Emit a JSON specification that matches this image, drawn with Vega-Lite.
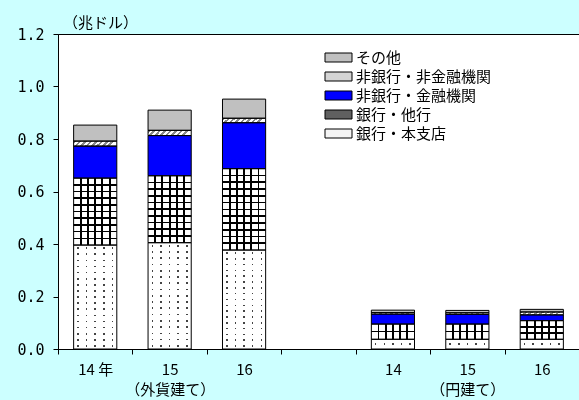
{
  "$schema": "https://vega.github.io/schema/vega-lite/v6.json",
  "width": 521,
  "height": 315,
  "autosize": "none",
  "padding": {"left": 58, "top": 34, "right": 0, "bottom": 51},
  "background": "#CCFFFF",
  "config": {
    "view": {"stroke": "black", "strokeWidth": 1, "fill": "white"},
    "axis": {"domainColor": "black", "tickColor": "black", "labelColor": "black", "titleColor": "black", "grid": false}
  },
  "data": {
    "values": [
      {"cat": "外貨14", "group": "外貨建て", "year": "14", "series": "銀行・本支店", "order": 1, "value": 0.396},
      {"cat": "外貨14", "group": "外貨建て", "year": "14", "series": "銀行・他行", "order": 2, "value": 0.255},
      {"cat": "外貨14", "group": "外貨建て", "year": "14", "series": "非銀行・金融機関", "order": 3, "value": 0.122},
      {"cat": "外貨14", "group": "外貨建て", "year": "14", "series": "非銀行・非金融機関", "order": 4, "value": 0.019},
      {"cat": "外貨14", "group": "外貨建て", "year": "14", "series": "その他", "order": 5, "value": 0.061},
      {"cat": "外貨15", "group": "外貨建て", "year": "15", "series": "銀行・本支店", "order": 1, "value": 0.405},
      {"cat": "外貨15", "group": "外貨建て", "year": "15", "series": "銀行・他行", "order": 2, "value": 0.255},
      {"cat": "外貨15", "group": "外貨建て", "year": "15", "series": "非銀行・金融機関", "order": 3, "value": 0.153},
      {"cat": "外貨15", "group": "外貨建て", "year": "15", "series": "非銀行・非金融機関", "order": 4, "value": 0.020},
      {"cat": "外貨15", "group": "外貨建て", "year": "15", "series": "その他", "order": 5, "value": 0.077},
      {"cat": "外貨16", "group": "外貨建て", "year": "16", "series": "銀行・本支店", "order": 1, "value": 0.377},
      {"cat": "外貨16", "group": "外貨建て", "year": "16", "series": "銀行・他行", "order": 2, "value": 0.310},
      {"cat": "外貨16", "group": "外貨建て", "year": "16", "series": "非銀行・金融機関", "order": 3, "value": 0.175},
      {"cat": "外貨16", "group": "外貨建て", "year": "16", "series": "非銀行・非金融機関", "order": 4, "value": 0.017},
      {"cat": "外貨16", "group": "外貨建て", "year": "16", "series": "その他", "order": 5, "value": 0.073},
      {"cat": "円14", "group": "円建て", "year": "14", "series": "銀行・本支店", "order": 1, "value": 0.037},
      {"cat": "円14", "group": "円建て", "year": "14", "series": "銀行・他行", "order": 2, "value": 0.058},
      {"cat": "円14", "group": "円建て", "year": "14", "series": "非銀行・金融機関", "order": 3, "value": 0.038},
      {"cat": "円14", "group": "円建て", "year": "14", "series": "非銀行・非金融機関", "order": 4, "value": 0.006},
      {"cat": "円14", "group": "円建て", "year": "14", "series": "その他", "order": 5, "value": 0.009},
      {"cat": "円15", "group": "円建て", "year": "15", "series": "銀行・本支店", "order": 1, "value": 0.037},
      {"cat": "円15", "group": "円建て", "year": "15", "series": "銀行・他行", "order": 2, "value": 0.058},
      {"cat": "円15", "group": "円建て", "year": "15", "series": "非銀行・金融機関", "order": 3, "value": 0.037},
      {"cat": "円15", "group": "円建て", "year": "15", "series": "非銀行・非金融機関", "order": 4, "value": 0.006},
      {"cat": "円15", "group": "円建て", "year": "15", "series": "その他", "order": 5, "value": 0.009},
      {"cat": "円16", "group": "円建て", "year": "16", "series": "銀行・本支店", "order": 1, "value": 0.037},
      {"cat": "円16", "group": "円建て", "year": "16", "series": "銀行・他行", "order": 2, "value": 0.071},
      {"cat": "円16", "group": "円建て", "year": "16", "series": "非銀行・金融機関", "order": 3, "value": 0.022},
      {"cat": "円16", "group": "円建て", "year": "16", "series": "非銀行・非金融機関", "order": 4, "value": 0.011},
      {"cat": "円16", "group": "円建て", "year": "16", "series": "その他", "order": 5, "value": 0.010}
    ]
  },
  "transform": [
    {"stack": "value", "groupby": ["cat"], "sort": [{"field": "order", "order": "ascending"}], "as": ["v0", "v1"]}
  ],
  "encoding": {
    "x": {
      "field": "cat", "type": "nominal",
      "scale": {"domain": ["外貨14", "外貨15", "外貨16", "gap", "円14", "円15", "円16"], "paddingInner": 0, "paddingOuter": 0},
      "axis": {
        "title": null, "tickBand": "extent", "tickSize": 5, "labelAngle": 0,
        "labelFont": "Noto Sans CJK JP", "labelFontSize": 15, "labelPadding": 8, "labelLineHeight": 20,
        "labelOverlap": false, "labelBound": false, "labelFlush": false,
        "labelExpr": "datum.value == '外貨14' ? '14 年' : datum.value == '外貨15' ? ['15', '（外貨建て）'] : datum.value == '外貨16' ? '16' : datum.value == '円14' ? '14' : datum.value == '円15' ? ['15', '（円建て）'] : datum.value == '円16' ? '16' : ''"
      }
    },
    "y": {
      "field": "v1", "type": "quantitative",
      "scale": {"domain": [0, 1.2], "nice": false},
      "axis": {
        "values": [0, 0.2, 0.4, 0.6, 0.8, 1.0, 1.2], "format": ".1f",
        "labelFont": "DejaVu Sans Mono", "labelFontSize": 15, "tickSize": 5, "labelPadding": 9,
        "title": "（兆ドル）", "titleAngle": 0, "titleX": 42, "titleY": -12, "titleAlign": "center", "titleBaseline": "middle",
        "titleFont": "Noto Sans CJK JP", "titleFontSize": 15, "titleFontWeight": "normal"
      }
    },
    "y2": {"field": "v0"}
  },
  "layer": [
    {
      "mark": {"type": "bar", "width": {"band": 0.58}},
      "encoding": {
        "color": {
          "field": "series", "type": "nominal",
          "scale": {
            "domain": ["その他", "非銀行・非金融機関", "非銀行・金融機関", "銀行・他行", "銀行・本支店"],
            "range": ["#c0c0c0", "#d4d4d4", "#0000ff", "#606060", "#f4f4f4"]
          },
          "legend": {
            "orient": "none", "legendX": 273, "legendY": 16, "title": null,
            "symbolType": "M-3,-1H3V1H-3Z", "symbolSize": 81, "symbolStrokeColor": "black", "symbolStrokeWidth": 1,
            "labelFont": "Noto Sans CJK JP", "labelFontSize": 15, "labelColor": "black", "labelOffset": 10,
            "rowPadding": 3, "padding": 0, "labelLimit": 300
          }
        }
      }
    },
    {
      "transform": [{"filter": "datum.series == '銀行・本支店'"}],
      "mark": {"type": "bar", "width": {"band": 0.58},
        "fill": {"gradient": "linear", "x1": 0, "y1": 0, "x2": 1, "y2": 0, "stops": [
          {"offset": 0, "color": "white"}, {"offset": 0.082, "color": "white"}, {"offset": 0.082, "color": "#444"}, {"offset": 0.118, "color": "#444"}, {"offset": 0.118, "color": "white"},
          {"offset": 0.282, "color": "white"}, {"offset": 0.282, "color": "#444"}, {"offset": 0.318, "color": "#444"}, {"offset": 0.318, "color": "white"},
          {"offset": 0.482, "color": "white"}, {"offset": 0.482, "color": "#444"}, {"offset": 0.518, "color": "#444"}, {"offset": 0.518, "color": "white"},
          {"offset": 0.682, "color": "white"}, {"offset": 0.682, "color": "#444"}, {"offset": 0.718, "color": "#444"}, {"offset": 0.718, "color": "white"},
          {"offset": 0.882, "color": "white"}, {"offset": 0.882, "color": "#444"}, {"offset": 0.918, "color": "#444"}, {"offset": 0.918, "color": "white"},
          {"offset": 1, "color": "white"}]}
      }
    },
    {
      "transform": [{"filter": "datum.series == '銀行・本支店'"}],
      "mark": {"type": "bar", "width": {"band": 0.58}, "blend": "lighten"},
      "encoding": {
        "fill": {
          "condition": {"test": "datum.group == '円建て'", "value": {"gradient": "linear", "x1": 0, "y1": 0, "x2": 0, "y2": 1, "stops": [
            {"offset": 0, "color": "white"}, {"offset": 0.42, "color": "white"}, {"offset": 0.42, "color": "black"}, {"offset": 0.58, "color": "black"}, {"offset": 0.58, "color": "white"}, {"offset": 1, "color": "white"}]}},
          "value": {"gradient": "linear", "x1": 0, "y1": 0, "x2": 0, "y2": 1, "stops": [
            {"offset": 0, "color": "white"},
            {"offset": 0.0214, "color": "white"}, {"offset": 0.0214, "color": "black"}, {"offset": 0.0374, "color": "black"}, {"offset": 0.0374, "color": "white"},
            {"offset": 0.0802, "color": "white"}, {"offset": 0.0802, "color": "black"}, {"offset": 0.0962, "color": "black"}, {"offset": 0.0962, "color": "white"},
            {"offset": 0.1391, "color": "white"}, {"offset": 0.1391, "color": "black"}, {"offset": 0.1551, "color": "black"}, {"offset": 0.1551, "color": "white"},
            {"offset": 0.1979, "color": "white"}, {"offset": 0.1979, "color": "black"}, {"offset": 0.2139, "color": "black"}, {"offset": 0.2139, "color": "white"},
            {"offset": 0.2567, "color": "white"}, {"offset": 0.2567, "color": "black"}, {"offset": 0.2727, "color": "black"}, {"offset": 0.2727, "color": "white"},
            {"offset": 0.3155, "color": "white"}, {"offset": 0.3155, "color": "black"}, {"offset": 0.3315, "color": "black"}, {"offset": 0.3315, "color": "white"},
            {"offset": 0.3744, "color": "white"}, {"offset": 0.3744, "color": "black"}, {"offset": 0.3904, "color": "black"}, {"offset": 0.3904, "color": "white"},
            {"offset": 0.4332, "color": "white"}, {"offset": 0.4332, "color": "black"}, {"offset": 0.4492, "color": "black"}, {"offset": 0.4492, "color": "white"},
            {"offset": 0.492, "color": "white"}, {"offset": 0.492, "color": "black"}, {"offset": 0.508, "color": "black"}, {"offset": 0.508, "color": "white"},
            {"offset": 0.5508, "color": "white"}, {"offset": 0.5508, "color": "black"}, {"offset": 0.5668, "color": "black"}, {"offset": 0.5668, "color": "white"},
            {"offset": 0.6096, "color": "white"}, {"offset": 0.6096, "color": "black"}, {"offset": 0.6256, "color": "black"}, {"offset": 0.6256, "color": "white"},
            {"offset": 0.6685, "color": "white"}, {"offset": 0.6685, "color": "black"}, {"offset": 0.6845, "color": "black"}, {"offset": 0.6845, "color": "white"},
            {"offset": 0.7273, "color": "white"}, {"offset": 0.7273, "color": "black"}, {"offset": 0.7433, "color": "black"}, {"offset": 0.7433, "color": "white"},
            {"offset": 0.7861, "color": "white"}, {"offset": 0.7861, "color": "black"}, {"offset": 0.8021, "color": "black"}, {"offset": 0.8021, "color": "white"},
            {"offset": 0.8449, "color": "white"}, {"offset": 0.8449, "color": "black"}, {"offset": 0.8609, "color": "black"}, {"offset": 0.8609, "color": "white"},
            {"offset": 0.9038, "color": "white"}, {"offset": 0.9038, "color": "black"}, {"offset": 0.9198, "color": "black"}, {"offset": 0.9198, "color": "white"},
            {"offset": 0.9626, "color": "white"}, {"offset": 0.9626, "color": "black"}, {"offset": 0.9786, "color": "black"}, {"offset": 0.9786, "color": "white"},
            {"offset": 1, "color": "white"}]}
        }
      }
    },
    {
      "transform": [{"filter": "datum.series == '銀行・他行'"}],
      "mark": {"type": "bar", "width": {"band": 0.58},
        "fill": {"gradient": "linear", "x1": 0, "y1": 0, "x2": 1, "y2": 0, "stops": [
          {"offset": 0, "color": "white"},
          {"offset": 0.1447, "color": "white"}, {"offset": 0.1447, "color": "black"}, {"offset": 0.1887, "color": "black"}, {"offset": 0.1887, "color": "white"},
          {"offset": 0.3113, "color": "white"}, {"offset": 0.3113, "color": "black"}, {"offset": 0.3553, "color": "black"}, {"offset": 0.3553, "color": "white"},
          {"offset": 0.478, "color": "white"}, {"offset": 0.478, "color": "black"}, {"offset": 0.522, "color": "black"}, {"offset": 0.522, "color": "white"},
          {"offset": 0.6447, "color": "white"}, {"offset": 0.6447, "color": "black"}, {"offset": 0.6887, "color": "black"}, {"offset": 0.6887, "color": "white"},
          {"offset": 0.8113, "color": "white"}, {"offset": 0.8113, "color": "black"}, {"offset": 0.8553, "color": "black"}, {"offset": 0.8553, "color": "white"},
          {"offset": 1, "color": "white"}]}
      }
    },
    {
      "transform": [{"filter": "datum.series == '銀行・他行'"}],
      "mark": {"type": "bar", "width": {"band": 0.58}},
      "encoding": {
        "fill": {
          "condition": [
            {"test": "datum.cat == '外貨16'", "value": {"gradient": "linear", "x1": 0, "y1": 0, "x2": 0, "y2": 1, "stops": [
              {"offset": 0, "color": "rgba(0,0,0,0)"},
              {"offset": 0.0733, "color": "rgba(0,0,0,0)"}, {"offset": 0.0733, "color": "black"}, {"offset": 0.0933, "color": "black"}, {"offset": 0.0933, "color": "rgba(0,0,0,0)"},
              {"offset": 0.1567, "color": "rgba(0,0,0,0)"}, {"offset": 0.1567, "color": "black"}, {"offset": 0.1767, "color": "black"}, {"offset": 0.1767, "color": "rgba(0,0,0,0)"},
              {"offset": 0.24, "color": "rgba(0,0,0,0)"}, {"offset": 0.24, "color": "black"}, {"offset": 0.26, "color": "black"}, {"offset": 0.26, "color": "rgba(0,0,0,0)"},
              {"offset": 0.3233, "color": "rgba(0,0,0,0)"}, {"offset": 0.3233, "color": "black"}, {"offset": 0.3433, "color": "black"}, {"offset": 0.3433, "color": "rgba(0,0,0,0)"},
              {"offset": 0.4067, "color": "rgba(0,0,0,0)"}, {"offset": 0.4067, "color": "black"}, {"offset": 0.4267, "color": "black"}, {"offset": 0.4267, "color": "rgba(0,0,0,0)"},
              {"offset": 0.49, "color": "rgba(0,0,0,0)"}, {"offset": 0.49, "color": "black"}, {"offset": 0.51, "color": "black"}, {"offset": 0.51, "color": "rgba(0,0,0,0)"},
              {"offset": 0.5733, "color": "rgba(0,0,0,0)"}, {"offset": 0.5733, "color": "black"}, {"offset": 0.5933, "color": "black"}, {"offset": 0.5933, "color": "rgba(0,0,0,0)"},
              {"offset": 0.6567, "color": "rgba(0,0,0,0)"}, {"offset": 0.6567, "color": "black"}, {"offset": 0.6767, "color": "black"}, {"offset": 0.6767, "color": "rgba(0,0,0,0)"},
              {"offset": 0.74, "color": "rgba(0,0,0,0)"}, {"offset": 0.74, "color": "black"}, {"offset": 0.76, "color": "black"}, {"offset": 0.76, "color": "rgba(0,0,0,0)"},
              {"offset": 0.8233, "color": "rgba(0,0,0,0)"}, {"offset": 0.8233, "color": "black"}, {"offset": 0.8433, "color": "black"}, {"offset": 0.8433, "color": "rgba(0,0,0,0)"},
              {"offset": 0.9067, "color": "rgba(0,0,0,0)"}, {"offset": 0.9067, "color": "black"}, {"offset": 0.9267, "color": "black"}, {"offset": 0.9267, "color": "rgba(0,0,0,0)"},
              {"offset": 1, "color": "rgba(0,0,0,0)"}]}},
            {"test": "datum.cat == '円16'", "value": {"gradient": "linear", "x1": 0, "y1": 0, "x2": 0, "y2": 1, "stops": [
              {"offset": 0, "color": "rgba(0,0,0,0)"},
              {"offset": 0.29, "color": "rgba(0,0,0,0)"}, {"offset": 0.29, "color": "black"}, {"offset": 0.37, "color": "black"}, {"offset": 0.37, "color": "rgba(0,0,0,0)"},
              {"offset": 0.63, "color": "rgba(0,0,0,0)"}, {"offset": 0.63, "color": "black"}, {"offset": 0.71, "color": "black"}, {"offset": 0.71, "color": "rgba(0,0,0,0)"},
              {"offset": 1, "color": "rgba(0,0,0,0)"}]}},
            {"test": "datum.group == '円建て'", "value": {"gradient": "linear", "x1": 0, "y1": 0, "x2": 0, "y2": 1, "stops": [
              {"offset": 0, "color": "rgba(0,0,0,0)"},
              {"offset": 0.45, "color": "rgba(0,0,0,0)"}, {"offset": 0.45, "color": "black"}, {"offset": 0.55, "color": "black"}, {"offset": 0.55, "color": "rgba(0,0,0,0)"},
              {"offset": 1, "color": "rgba(0,0,0,0)"}]}}
          ],
          "value": {"gradient": "linear", "x1": 0, "y1": 0, "x2": 0, "y2": 1, "stops": [
            {"offset": 0, "color": "rgba(0,0,0,0)"},
            {"offset": 0.088, "color": "rgba(0,0,0,0)"}, {"offset": 0.088, "color": "black"}, {"offset": 0.112, "color": "black"}, {"offset": 0.112, "color": "rgba(0,0,0,0)"},
            {"offset": 0.188, "color": "rgba(0,0,0,0)"}, {"offset": 0.188, "color": "black"}, {"offset": 0.212, "color": "black"}, {"offset": 0.212, "color": "rgba(0,0,0,0)"},
            {"offset": 0.288, "color": "rgba(0,0,0,0)"}, {"offset": 0.288, "color": "black"}, {"offset": 0.312, "color": "black"}, {"offset": 0.312, "color": "rgba(0,0,0,0)"},
            {"offset": 0.388, "color": "rgba(0,0,0,0)"}, {"offset": 0.388, "color": "black"}, {"offset": 0.412, "color": "black"}, {"offset": 0.412, "color": "rgba(0,0,0,0)"},
            {"offset": 0.488, "color": "rgba(0,0,0,0)"}, {"offset": 0.488, "color": "black"}, {"offset": 0.512, "color": "black"}, {"offset": 0.512, "color": "rgba(0,0,0,0)"},
            {"offset": 0.588, "color": "rgba(0,0,0,0)"}, {"offset": 0.588, "color": "black"}, {"offset": 0.612, "color": "black"}, {"offset": 0.612, "color": "rgba(0,0,0,0)"},
            {"offset": 0.688, "color": "rgba(0,0,0,0)"}, {"offset": 0.688, "color": "black"}, {"offset": 0.712, "color": "black"}, {"offset": 0.712, "color": "rgba(0,0,0,0)"},
            {"offset": 0.788, "color": "rgba(0,0,0,0)"}, {"offset": 0.788, "color": "black"}, {"offset": 0.812, "color": "black"}, {"offset": 0.812, "color": "rgba(0,0,0,0)"},
            {"offset": 0.888, "color": "rgba(0,0,0,0)"}, {"offset": 0.888, "color": "black"}, {"offset": 0.912, "color": "black"}, {"offset": 0.912, "color": "rgba(0,0,0,0)"},
            {"offset": 1, "color": "rgba(0,0,0,0)"}]}
        }
      }
    },
    {
      "transform": [{"filter": "datum.series == '非銀行・非金融機関'"}],
      "mark": {"type": "bar", "width": {"band": 0.58},
        "fill": {"gradient": "linear", "x1": 0, "y1": 0, "x2": 1, "y2": 0.12, "stops": [
          {"offset": 0, "color": "#888"}, {"offset": 0.06, "color": "#888"}, {"offset": 0.06, "color": "white"},
          {"offset": 0.125, "color": "white"}, {"offset": 0.125, "color": "#888"}, {"offset": 0.185, "color": "#888"}, {"offset": 0.185, "color": "white"},
          {"offset": 0.25, "color": "white"}, {"offset": 0.25, "color": "#888"}, {"offset": 0.31, "color": "#888"}, {"offset": 0.31, "color": "white"},
          {"offset": 0.375, "color": "white"}, {"offset": 0.375, "color": "#888"}, {"offset": 0.435, "color": "#888"}, {"offset": 0.435, "color": "white"},
          {"offset": 0.5, "color": "white"}, {"offset": 0.5, "color": "#888"}, {"offset": 0.56, "color": "#888"}, {"offset": 0.56, "color": "white"},
          {"offset": 0.625, "color": "white"}, {"offset": 0.625, "color": "#888"}, {"offset": 0.685, "color": "#888"}, {"offset": 0.685, "color": "white"},
          {"offset": 0.75, "color": "white"}, {"offset": 0.75, "color": "#888"}, {"offset": 0.81, "color": "#888"}, {"offset": 0.81, "color": "white"},
          {"offset": 0.875, "color": "white"}, {"offset": 0.875, "color": "#888"}, {"offset": 0.935, "color": "#888"}, {"offset": 0.935, "color": "white"},
          {"offset": 1, "color": "white"}]}
      }
    },
    {
      "mark": {"type": "bar", "width": {"band": 0.58}, "fill": "transparent", "stroke": "black", "strokeWidth": 1}
    }
  ]
}
